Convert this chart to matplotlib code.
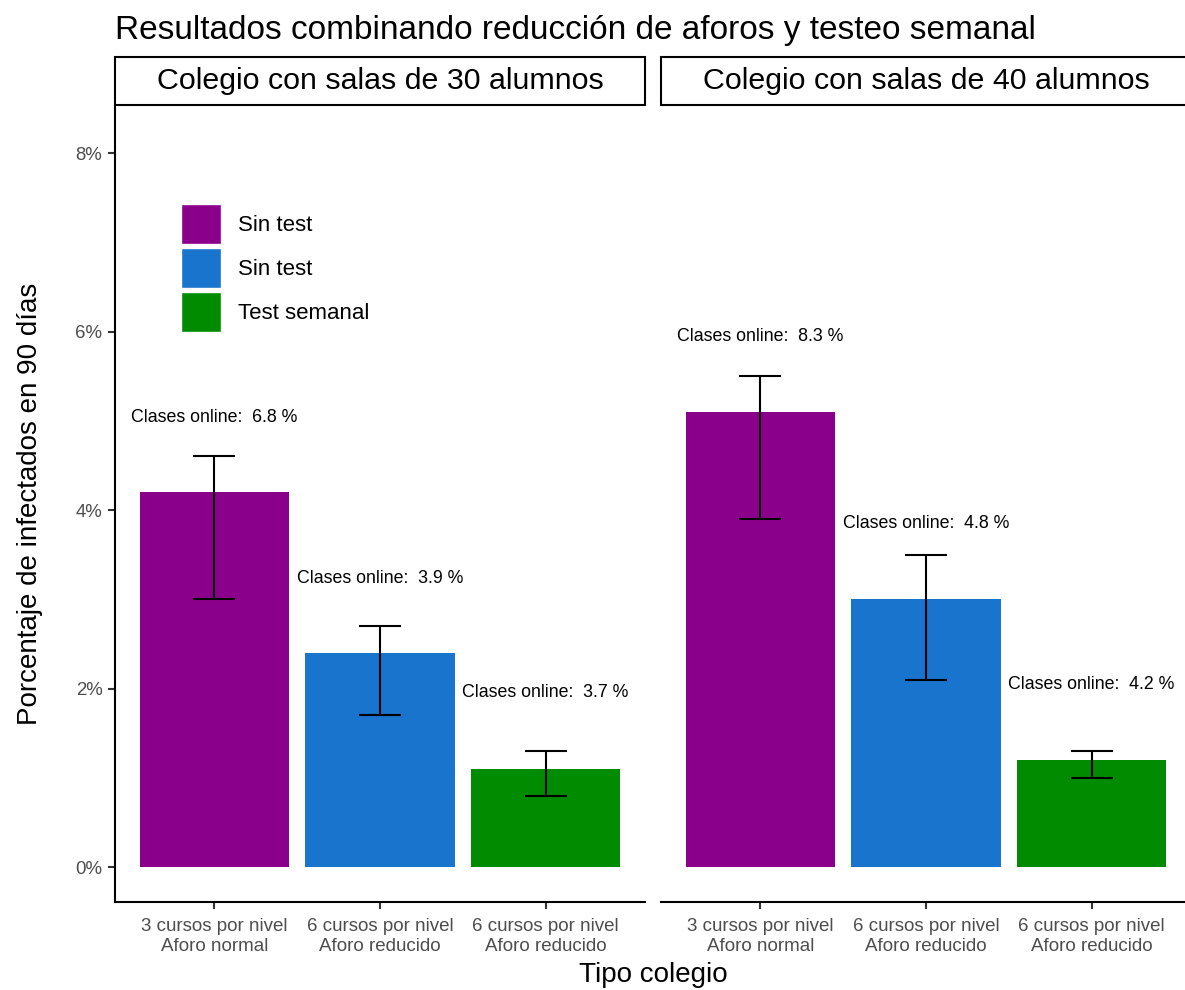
import matplotlib
matplotlib.use("Agg")
import matplotlib.pyplot as plt
from matplotlib.patches import Patch, Rectangle
from matplotlib.ticker import FuncFormatter

plt.rcParams['font.family'] = ['Liberation Sans', 'DejaVu Sans']

# datos
paneles = ['Colegio con salas de 30 alumnos', 'Colegio con salas de 40 alumnos']
categorias = ['3 cursos por nivel\nAforo normal',
              '6 cursos por nivel\nAforo reducido',
              '6 cursos por nivel\nAforo reducido']
leyenda = ['Sin test', 'Sin test', 'Test semanal']
colores = ['#8B008B', '#1874CD', '#008B00']

infectados = [[4.2, 2.4, 1.1], [5.1, 3.0, 1.2]]
error_bajo = [[3.0, 1.7, 0.8], [3.9, 2.1, 1.0]]
error_alto = [[4.6, 2.7, 1.3], [5.5, 3.5, 1.3]]
online = [[6.8, 3.9, 3.7], [8.3, 4.8, 4.2]]
online_y = [[5.04, 3.23, 1.95], [5.94, 3.85, 2.04]]

W, H = 1185, 990
fig = plt.figure(figsize=(W / 100, H / 100), dpi=100)

def fx(px):
    return px / W

def fy(py):
    return 1 - py / H

gris = '#4D4D4D'
ejes = []
x_izq = [115, 661]
ancho = 530
for p in range(2):
    ax = fig.add_axes([fx(x_izq[p]), fy(902), fx(ancho), (902 - 105) / H])
    ejes.append(ax)
    xs = [1, 2, 3]
    ax.bar(xs, infectados[p], width=0.9, color=colores, zorder=2)
    for i in range(3):
        ax.errorbar(xs[i], infectados[p][i],
                    yerr=[[infectados[p][i] - error_bajo[p][i]],
                          [error_alto[p][i] - infectados[p][i]]],
                    fmt='none', ecolor='black', elinewidth=1.5,
                    capsize=15, capthick=1.5, zorder=3)
        ax.text(xs[i], online_y[p][i], f'Clases online:  {online[p][i]} %',
                ha='center', va='center', fontsize=12.8, color='black')
    ax.set_xlim(0.4, 3.6)
    ax.set_ylim(-0.392, 8.538)
    ax.set_xticks(xs)
    ax.set_xticklabels(categorias, fontsize=13.5, color=gris, linespacing=1.2)
    ax.tick_params(axis='x', length=5, width=1.5, color='#333333', pad=6.5)
    ax.spines['top'].set_visible(False)
    ax.spines['right'].set_visible(False)
    ax.spines['bottom'].set_linewidth(1.5)
    ax.spines['left'].set_linewidth(1.5)
    if p == 0:
        ax.set_yticks([0, 2, 4, 6, 8])
        ax.yaxis.set_major_formatter(FuncFormatter(lambda v, _: f'{v:.0f}%'))
        ax.tick_params(axis='y', length=5, width=1.5, color='#333333',
                       labelsize=13.4, labelcolor=gris, pad=4)
        ax.set_ylabel('Porcentaje de infectados en 90 días', fontsize=20)
        ax.yaxis.set_label_coords(-0.1357, 0.5)
    else:
        ax.spines['left'].set_visible(False)
        ax.set_yticks([])

    # franja del panel
    fig.add_artist(Rectangle((fx(x_izq[p]), fy(105)), fx(ancho), 48 / H,
                             transform=fig.transFigure, facecolor='white',
                             edgecolor='black', linewidth=1.5, clip_on=False))
    fig.text(fx(x_izq[p] + ancho / 2), fy(81), paneles[p], ha='center',
             va='center', fontsize=21.9)

handles = [Patch(facecolor=c, edgecolor='white', linewidth=1) for c in colores]
fig.legend(handles, leyenda, loc='upper left',
           bbox_to_anchor=(fx(181), fy(204)), bbox_transform=fig.transFigure,
           frameon=False, fontsize=16, handlelength=1.82, handleheight=2.39,
           handletextpad=0.75, labelspacing=0.18, borderpad=0, borderaxespad=0)

fig.text(fx(115), fy(30), 'Resultados combinando reducción de aforos y testeo semanal',
         ha='left', va='center', fontsize=24)
fig.text(fx(653), fy(975), 'Tipo colegio', ha='center', va='center', fontsize=20)

fig.savefig('out.png', dpi=100)
